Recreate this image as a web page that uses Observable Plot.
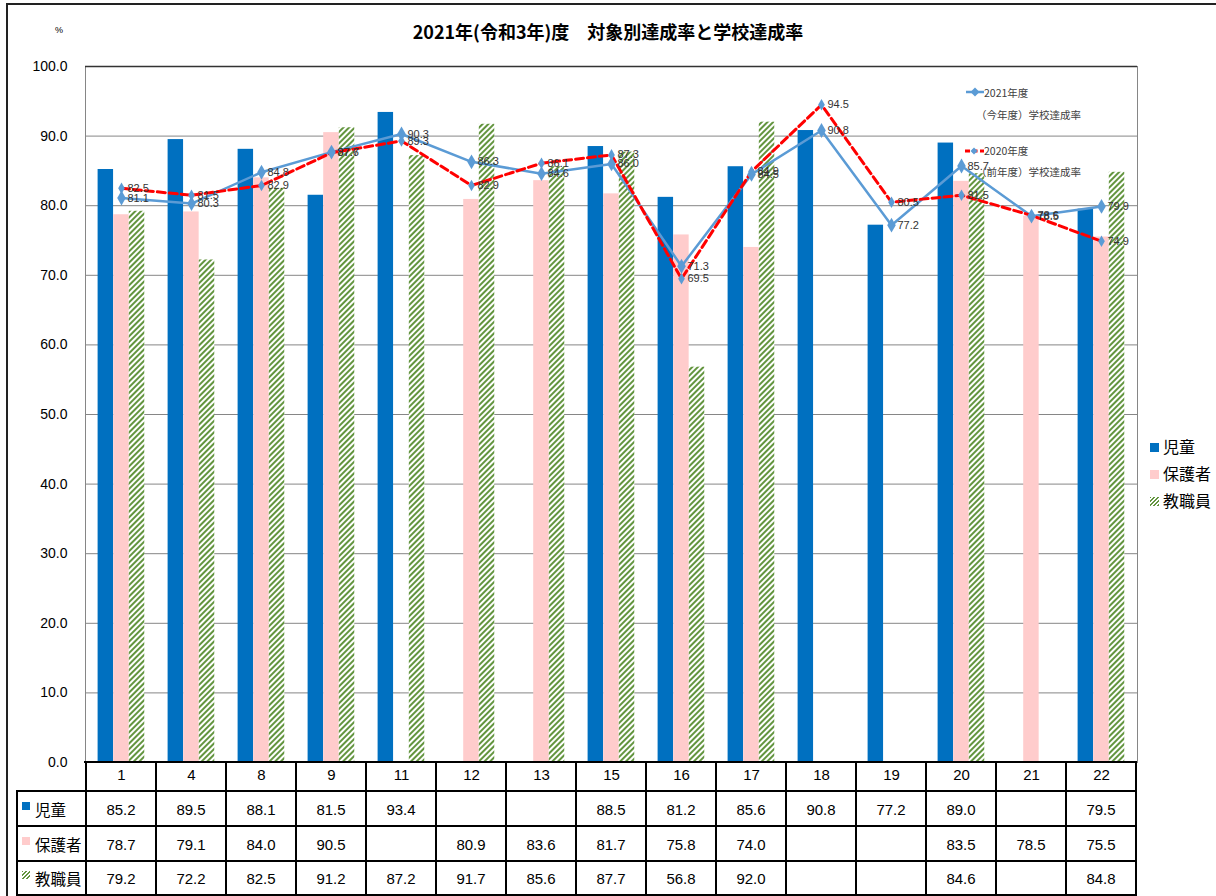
<!DOCTYPE html>
<html><head><meta charset="utf-8">
<script src="https://cdn.jsdelivr.net/npm/d3@7"></script>
<script src="https://cdn.jsdelivr.net/npm/@observablehq/plot@0.6"></script>
<style>
body{margin:0;background:#fff;}
#wrap{position:relative;width:1216px;height:896px;overflow:hidden;font-family:"Liberation Sans","Noto Sans CJK JP",sans-serif;color:#000;}
#wrap svg.plot{position:absolute;left:0;top:0;}
.abs{position:absolute;white-space:nowrap;}
.jp{font-family:"Noto Sans CJK JP",sans-serif;}
.hline{position:absolute;height:2px;background:#000;}
.vline{position:absolute;width:2px;background:#000;}
.cell{position:absolute;text-align:center;font-size:15px;}
.key{position:absolute;width:9px;height:9px;}
.hatch{background:repeating-linear-gradient(135deg,#63953F 0 1.4px,#fff 1.4px 2.8px);}
</style></head><body><div id="wrap"></div>
<script>
// ---- data ----
const categories = ["1","4","8","9","11","12","13","15","16","17","18","19","20","21","22"];
const seriesNames = ["児童","保護者","教職員"];
const jidou      = [85.2,89.5,88.1,81.5,93.4,null,null,88.5,81.2,85.6,90.8,77.2,89.0,null,79.5];
const hogosha    = [78.7,79.1,84.0,90.5,null,80.9,83.6,81.7,75.8,74.0,null,null,83.5,78.5,75.5];
const kyoshokuin = [79.2,72.2,82.5,91.2,87.2,91.7,85.6,87.7,56.8,92.0,null,null,84.6,null,84.8];
const rate2021   = [81.1,80.3,84.8,87.7,90.3,86.3,84.6,86.0,71.3,84.5,90.8,77.2,85.7,78.5,79.9];
const rate2020   = [82.5,81.5,82.9,87.6,89.3,82.9,86.1,87.3,69.5,84.9,94.5,80.5,81.5,78.6,74.9];
const yTicks = [0,10,20,30,40,50,60,70,80,90,100];
const titleText = "2021年(令和3年)度　対象別達成率と学校達成率";
const legend2021 = ["2021年度","（今年度）学校達成率"];
const legend2020 = ["2020年度","（前年度）学校達成率"];

// ---- layout ----
const W = 1216, H = 896;
const mL = 85, mR = 79, mT = 66, mB = 134;
const bw = (W - mL - mR) / categories.length;
const barW = 15.6, off0 = 11.6;
const inset = i => ({insetLeft: off0 + i*barW, insetRight: bw - off0 - (i+1)*barW});
const seriesVals = [jidou, hogosha, kyoshokuin];
const seriesFill = ["#0070C0", "#FFCCCC", "url(#hatch)"];
const barRows = (vals, s) => categories.map((c,i)=>({cat:c, series:s, value:vals[i]})).filter(d=>d.value!=null);
const lineRows = vals => categories.map((c,i)=>({cat:c, value:vals[i]}));

const chart = Plot.plot({
  width: W, height: H,
  marginTop: mT, marginLeft: mL, marginRight: mR, marginBottom: mB,
  x: {type:"band", domain: categories, padding: 0},
  y: {domain: [0,100]},
  style: {fontFamily: '"Liberation Sans","Noto Sans CJK JP",sans-serif', color: "#000", background: "transparent"},
  marks: [
    Plot.gridY(yTicks, {stroke:"#868686", strokeOpacity:1}),
    Plot.axisY(yTicks, {tickSize:0, tickPadding:18, tickFormat:d=>d.toFixed(1), fontSize:14, label:null}),
    Plot.axisX({tickSize:0, tickPadding:7, fontSize:15, label:null}),
    ...seriesVals.map((v,i)=>Plot.barY(barRows(v, seriesNames[i]), {x:"cat", y:"value", fill: seriesFill[i], ...inset(i)})),
    Plot.frame({stroke:"#868686"}),
    Plot.ruleY([100], {stroke:"#333", strokeWidth:1.5}),
    Plot.line(lineRows(rate2021), {x:"cat", y:"value", stroke:"#5B9BD5", strokeWidth:2.5}),
    Plot.line(lineRows(rate2020), {x:"cat", y:"value", stroke:"#FF0000", strokeWidth:3, strokeDasharray:"8,4"}),
    Plot.dot(lineRows(rate2021), {x:"cat", y:"value", symbol:"diamond", r:4.5, fill:"#5B9BD5"}),
    Plot.dot(lineRows(rate2020), {x:"cat", y:"value", symbol:"diamond", r:3.5, fill:"#5B9BD5"}),
    Plot.text(lineRows(rate2020), {x:"cat", y:"value", text:d=>d.value.toFixed(1), dx:6, textAnchor:"start", fontSize:11, fill:"#333"}),
    Plot.text(lineRows(rate2021), {x:"cat", y:"value", text:d=>d.value.toFixed(1), dx:6, textAnchor:"start", fontSize:11, fill:"#333"})
  ]
});
chart.classList.add("plot");
// hatch pattern for 教職員
const defs = d3.select(chart).insert("defs", ":first-child");
const pat = defs.append("pattern").attr("id","hatch").attr("patternUnits","userSpaceOnUse")
  .attr("width",4).attr("height",4).attr("patternTransform","rotate(45)");
pat.append("rect").attr("width",4).attr("height",4).attr("fill","#ffffff");
pat.append("rect").attr("width",2).attr("height",4).attr("fill","#63953F");

const wrap = document.getElementById("wrap");
wrap.appendChild(chart);

function add(html){ wrap.insertAdjacentHTML("beforeend", html); }

// outer border
add(`<div class="abs" style="left:6px;top:3px;width:1216px;height:900px;border-left:2px solid #222;border-top:2px solid #222;"></div>`);
// title and unit
add(`<div class="abs jp" style="left:0;width:1216px;top:18px;text-align:center;font-size:18px;font-weight:bold;">${titleText}</div>`);
add(`<div class="abs" style="left:55px;top:25px;font-size:9px;">%</div>`);

// inline legend (line series)
add(`<svg class="abs" style="left:962px;top:85px;" width="24" height="14"><line x1="4" x2="22" y1="7" y2="7" stroke="#5B9BD5" stroke-width="2.5"/><path d="M13,2.5L17.5,7L13,11.5L8.5,7Z" fill="#5B9BD5"/></svg>`);
add(`<div class="abs jp" style="left:984px;top:85px;font-size:10.5px;color:#404040;">${legend2021[0]}</div>`);
add(`<div class="abs jp" style="left:976px;top:107px;font-size:10.5px;color:#404040;">${legend2021[1]}</div>`);
add(`<svg class="abs" style="left:962px;top:144px;" width="24" height="14"><line x1="3" x2="22" y1="7" y2="7" stroke="#FF0000" stroke-width="3" stroke-dasharray="5,2.5"/><path d="M12,3.5L15.5,7L12,10.5L8.5,7Z" fill="#5B9BD5"/></svg>`);
add(`<div class="abs jp" style="left:984px;top:143px;font-size:10.5px;color:#404040;">${legend2020[0]}</div>`);
add(`<div class="abs jp" style="left:976px;top:164px;font-size:10.5px;color:#404040;">${legend2020[1]}</div>`);

// right legend (bar series)
const keyStyle = ["background:#0070C0","background:#FFCCCC",""];
const legY = [447, 474, 501];
seriesNames.forEach((s,i)=>{
  add(`<div class="key ${i===2?'hatch':''}" style="left:1150px;top:${legY[i]-4}px;${keyStyle[i]}"></div>`);
  add(`<div class="abs jp" style="left:1163px;top:${legY[i]-12}px;font-size:16px;line-height:22px;">${s}</div>`);
});

// data table below the plot, positioned with the plot's x scale
const xs = chart.scale("x");
const band = xs.bandwidth;
const rowTop = [791, 826, 861];
const rowBot = 895;
const tLeft = 17, tRight = xs.apply(categories[categories.length-1]) + band;
// horizontal lines
add(`<div class="hline" style="left:${mL-1}px;top:761px;width:${tRight-mL+2}px;"></div>`);
rowTop.concat([rowBot]).forEach(y=>add(`<div class="hline" style="left:${tLeft}px;top:${y-1}px;width:${tRight-tLeft+1}px;"></div>`));
// vertical lines
add(`<div class="vline" style="left:${tLeft-1}px;top:${rowTop[0]-1}px;height:${rowBot-rowTop[0]+2}px;"></div>`);
categories.forEach(c=>{
  const x0 = xs.apply(c);
  add(`<div class="vline" style="left:${x0-1}px;top:761px;height:${rowBot-761+1}px;"></div>`);
});
add(`<div class="vline" style="left:${tRight-1}px;top:761px;height:${rowBot-761+1}px;"></div>`);
// row headers and values
seriesNames.forEach((s,i)=>{
  const y0 = rowTop[i], y1 = i<2 ? rowTop[i+1] : rowBot;
  const cy = (y0+y1)/2;
  add(`<div class="key ${i===2?'hatch':''}" style="left:22px;top:${cy-7}px;width:8px;height:8px;${keyStyle[i]}"></div>`);
  add(`<div class="abs jp" style="left:35px;top:${cy-12}px;font-size:15.5px;line-height:24px;">${s}</div>`);
  seriesVals[i].forEach((v,j)=>{
    if (v==null) return;
    const x0 = xs.apply(categories[j]);
    add(`<div class="cell" style="left:${x0}px;width:${band}px;top:${cy-10}px;line-height:22px;">${v.toFixed(1)}</div>`);
  });
});
</script></body></html>
